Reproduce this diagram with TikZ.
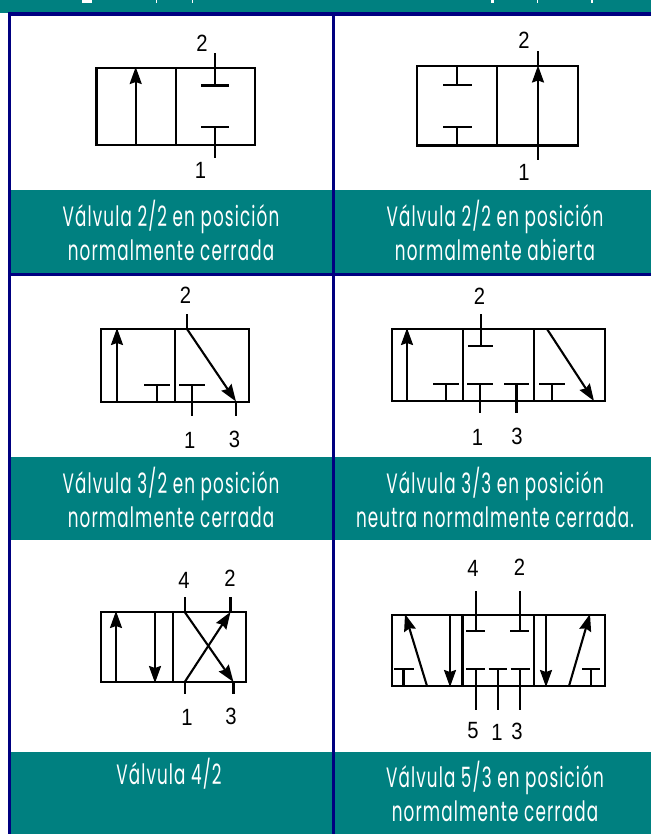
\documentclass[tikz,border=0pt]{standalone}
\usepackage{fontspec}
\usetikzlibrary{arrows.meta}
\setmainfont[FakeStretch=0.86]{Liberation Sans}
\newfontfamily\capfont[FakeStretch=0.6,LetterSpace=4]{Poppins}
\definecolor{tealband}{HTML}{008080}
\definecolor{navyline}{HTML}{000080}
\tikzset{
  ln/.style={line width=2.1pt,black,line cap=butt,line join=miter},
  flow/.style={ln,-{Stealth[length=17pt,width=12pt,inset=2pt]}},
  vbox/.style={ln},
  digit/.style={inner sep=0pt,font=\fontsize{23.5}{23.5}\selectfont,black},
  captxt/.style={inner sep=0pt,align=center,text=white,font=\fontsize{28}{34}\capfont},
  band/.style={fill=tealband,draw=none},
  navyrule/.style={fill=navyline,draw=none}
}
\newcommand{\teeDown}[5]{% x, bar y, stem end y, bar x1, bar x2
  \draw[ln] (#1,#2) -- (#1,#3); \draw[ln] (#4,#2) -- (#5,#2);}
\begin{document}
\begin{tikzpicture}[x=1pt,y=-1pt]
\useasboundingbox (0,0) rectangle (651,834);
\fill[white] (0,0) rectangle (651,834);
% teal bands
\fill[band] (0,0) rectangle (651,13);
\fill[band] (10,190) rectangle (651,273);
\fill[band] (10,457) rectangle (651,540);
\fill[band] (10,752) rectangle (651,834);
% cut-off text of the first band
\fill[white] (82,0) rectangle (92,3);
\fill[white] (155.5,0) rectangle (157,3);
\fill[white] (191.5,0) rectangle (193,3);
\fill[white] (491,0) rectangle (494,3);
\fill[white] (536.5,0) rectangle (538,3);
\fill[white] (591,0) rectangle (592.5,3);
% navy rules
\fill[navyrule] (8.2,12.3) rectangle (651,15.6);
\fill[navyrule] (8.2,273) rectangle (651,275.8);
\fill[navyrule] (8.2,12.3) rectangle (10.8,834);
\fill[navyrule] (332,12.3) rectangle (334.6,834);
% captions
\node[captxt] (c1) at (171,230) {Válvula 2/2 en posición\\normalmente cerrada};
\node[captxt] (c2) at (495,230) {Válvula 2/2 en posición\\normalmente abierta};
\node[captxt] (c3) at (171,497) {Válvula 3/2 en posición\\normalmente cerrada};
\node[captxt] (c4) at (495,497) {Válvula 3/3 en posición\\neutra normalmente cerrada.};
\node[captxt] (c5) at (169,774) {Válvula 4/2};
\node[captxt] (c6) at (495,791) {Válvula 5/3 en posición\\normalmente cerrada};
% valve 1
\draw[vbox] (96.5,68) rectangle (255,145);
\draw[ln] (176,68) -- (176,145);
\draw[flow] (135.7,145) -- (135.7,67);
\teeDown{215}{85.5}{53}{201}{229}
\teeDown{215}{126.7}{158}{201}{229}
\node[digit] (v1a) at (202,43) {2};
\node[digit] (v1b) at (200.5,170) {1};
% valve 2
\draw[vbox] (417,66) rectangle (578,145.5);
\draw[ln] (497,66) -- (497,145.5);
\teeDown{457}{84.7}{66}{443}{472}
\teeDown{457}{127}{145.5}{443}{472}
\draw[flow] (538,160) -- (538,65.5);
\draw[ln] (538,67) -- (538,51);
\node[digit] (v2a) at (524,40.5) {2};
\node[digit] (v2b) at (524,172.5) {1};
% valve 3
\draw[vbox] (101,329) rectangle (249,402);
\draw[ln] (175,329) -- (175,402);
\draw[flow] (117,402) -- (117,328);
\teeDown{157}{385}{402}{144}{170}
\teeDown{192}{385}{416}{179}{205}
\draw[ln] (187,314) -- (187,329);
\draw[flow] (187,329) -- (236,401.5);
\draw[ln] (236,402) -- (236,416);
\node[digit] (v3a) at (185.6,295.5) {2};
\node[digit] (v3b) at (189.7,440) {1};
\node[digit] (v3c) at (234.6,439) {3};
% valve 4
\draw[vbox] (392,329) rectangle (605,401);
\draw[ln] (463,329) -- (463,401);
\draw[ln] (534,329) -- (534,401);
\draw[flow] (407,401) -- (407,328);
\teeDown{481}{346}{314}{468}{493}
\teeDown{446}{384}{401}{433}{459}
\teeDown{480}{384}{413}{467}{493}
\teeDown{516.5}{384}{413}{504}{529}
\teeDown{552}{384}{401}{539}{565}
\draw[flow] (547,329) -- (594,401);
\node[digit] (v4a) at (479.6,296.5) {2};
\node[digit] (v4b) at (477.5,437.5) {1};
\node[digit] (v4c) at (517,436) {3};
% valve 5
\draw[vbox] (101,612) rectangle (245.7,682);
\draw[ln] (172.6,612) -- (172.6,682);
\draw[flow] (116,682) -- (116,611);
\draw[flow] (155,612) -- (155,683);
\draw[flow] (184.7,612) -- (233.5,682);
\draw[flow] (184.7,682) -- (230.5,612);
\draw[ln] (184.7,597) -- (184.7,612);
\draw[ln] (230.5,597) -- (230.5,612);
\draw[ln] (184.7,682) -- (184.7,694);
\draw[ln] (233.5,682) -- (233.5,694);
\node[digit] (v5a) at (184,580) {4};
\node[digit] (v5b) at (230,578) {2};
\node[digit] (v5c) at (187,717) {1};
\node[digit] (v5d) at (231,716) {3};
% valve 6
\draw[vbox] (392,615) rectangle (605,686);
\draw[ln] (462.5,615) -- (462.5,686);
\draw[ln] (534,615) -- (534,686);
\draw[flow] (427,686) -- (405,614);
\teeDown{403.5}{669}{686}{394}{414}
\draw[flow] (450,615) -- (450,687);
\teeDown{476}{630.7}{591}{466}{485}
\teeDown{520}{630.7}{591}{510}{529}
\teeDown{476}{669}{710}{466}{485}
\teeDown{498}{669}{710}{488.5}{507}
\teeDown{520}{669}{710}{510.5}{530}
\draw[flow] (546,615) -- (546,687);
\draw[flow] (569,686) -- (590,614);
\teeDown{591}{669}{686}{582}{600}
\node[digit] (v6a) at (473,568) {4};
\node[digit] (v6b) at (519.5,567.5) {2};
\node[digit] (v6c) at (473,731) {5};
\node[digit] (v6d) at (497,732.5) {1};
\node[digit] (v6e) at (517,731) {3};
\end{tikzpicture}
\end{document}
